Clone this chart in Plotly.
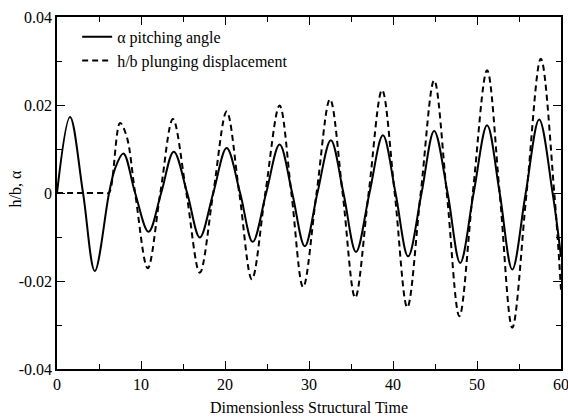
import plotly.graph_objects as go

# Pitching angle (solid): peaks, troughs and zero crossings
t_alpha = [0, 1.55, 3.1, 4.5, 6.2, 6.9, 7.9, 9.3, 10.9, 12.4, 13.9, 15.5, 17.0, 18.6,
           20.2, 21.8, 23.3, 24.9, 26.5, 28.0, 29.5, 31.0, 32.6, 34.1, 35.6, 37.2,
           38.8, 40.3, 41.8, 43.4, 44.9, 46.5, 48.0, 49.6, 51.2, 52.7, 54.2, 55.8,
           57.4, 59.0, 60.0]
alpha = [0, 0.0173, 0, -0.0177, 0, 0.0055, 0.0090, 0, -0.0088, 0, 0.0094, 0, -0.0101, 0,
         0.0102, 0, -0.0111, 0, 0.0110, 0, -0.0121, 0, 0.0120, 0, -0.0134, 0,
         0.0131, 0, -0.0144, 0, 0.0141, 0, -0.0159, 0, 0.0154, 0, -0.0174, 0,
         0.0167, 0, -0.0145]

# Plunging displacement (dashed)
t_h = [0, 3.0, 5.8, 6.2, 7.5, 8.3, 9.3, 10.8, 12.3, 13.8, 15.4, 17.0, 18.6, 20.2,
       21.7, 23.2, 24.8, 26.5, 27.9, 29.3, 30.9, 32.5, 34.0, 35.5, 37.1, 38.7,
       40.2, 41.7, 43.3, 44.9, 46.4, 47.9, 49.5, 51.2, 52.7, 54.2, 55.9, 57.6,
       59.2, 60.0]
h_b = [0, 0, 0, 0, 0.0159, 0.0128, 0, -0.0171, 0, 0.0168, 0, -0.0181, 0, 0.0185,
       0, -0.0196, 0, 0.0199, 0, -0.0214, 0, 0.0213, 0, -0.0238, 0, 0.0234,
       0, -0.0260, 0, 0.0256, 0, -0.0280, 0, 0.0279, 0, -0.0306, 0, 0.0305,
       0, -0.0220]

x_ticks = [0, 10, 20, 30, 40, 50, 60]
y_ticks = [-0.04, -0.02, 0, 0.02, 0.04]
y_tick_text = ["-0.04", "-0.02", "0", "0.02", "0.04"]

FONT = "Liberation Serif"
FS = 16

fig = go.Figure()
fig.add_trace(go.Scatter(x=t_alpha, y=alpha, mode="lines", name="\u03b1 pitching angle",
                         line=dict(color="black", width=2, shape="spline", smoothing=1)))
fig.add_trace(go.Scatter(x=t_h, y=h_b, mode="lines", name="h/b plunging displacement",
                         line=dict(color="black", width=2, dash="6px,4px",
                                   shape="spline", smoothing=1)))

axis_common = dict(showline=True, linecolor="black", linewidth=1.5, mirror="allticks",
                   ticks="inside", ticklen=8, tickwidth=1.2, tickcolor="black",
                   showgrid=False, zeroline=False, automargin=False,
                   ticklabeloverflow="allow",
                   tickfont=dict(family=FONT, size=FS, color="black"))

fig.update_xaxes(range=[0, 60], tickmode="array", tickvals=x_ticks,
                 minor=dict(ticks="inside", ticklen=5, dtick=5, tickcolor="black", tickwidth=1.2),
                 title=dict(text="Dimensionless Structural Time", standoff=10,
                            font=dict(family=FONT, size=FS, color="black")),
                 **axis_common)
fig.update_yaxes(range=[-0.04, 0.04], tickmode="array", tickvals=y_ticks, ticktext=y_tick_text,
                 minor=dict(ticks="inside", ticklen=5, dtick=0.01, tickcolor="black", tickwidth=1.2),
                 **axis_common)

fig.add_annotation(text="h/b, \u03b1", textangle=-90, xref="paper", yref="paper",
                   x=0, y=0.51, xanchor="center", yanchor="middle", xshift=-42,
                   showarrow=False, font=dict(family=FONT, size=FS, color="black"))

fig.update_layout(width=568, height=419, margin=dict(l=57, r=7, t=17, b=50),
                  paper_bgcolor="white", plot_bgcolor="white",
                  font=dict(family=FONT, size=FS, color="black"),
                  showlegend=True,
                  legend=dict(x=0.04, y=0.992, xanchor="left", yanchor="top",
                              bgcolor="rgba(0,0,0,0)", tracegroupgap=0,
                              font=dict(family=FONT, size=FS, color="black")))

fig.write_html("out.html", config={"displayModeBar": False},
               post_script="document.body.style.margin='0';document.body.style.overflow='hidden';")
